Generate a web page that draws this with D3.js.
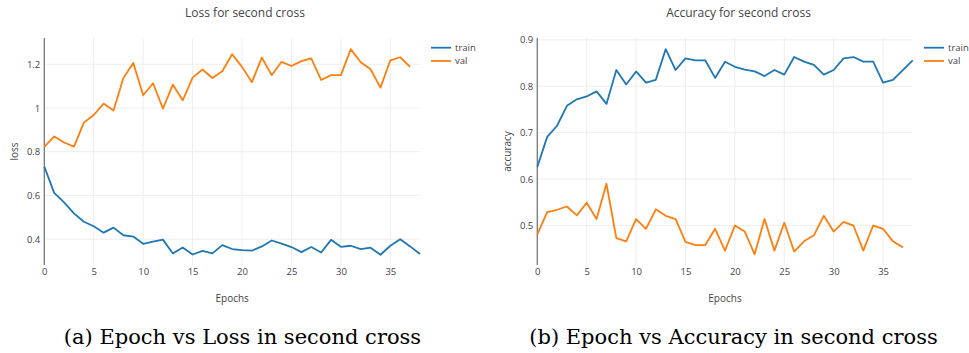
<!DOCTYPE html>
<html>
<head>
<meta charset="utf-8">
<script src="https://cdn.jsdelivr.net/npm/d3@7"></script>
<style>
body { margin: 0; background: #fff; }
text { font-family: 'Open Sans', sans-serif; }
</style>
</head>
<body>
<svg id="chart" width="969" height="353"></svg>
<script>
const lossTrain = [0.732, 0.612, 0.568, 0.518, 0.48, 0.459, 0.43, 0.453, 0.418, 0.412,
	0.379, 0.389, 0.398, 0.335, 0.362, 0.33, 0.347, 0.335, 0.373, 0.355,
	0.35, 0.348, 0.367, 0.394, 0.38, 0.364, 0.341, 0.364, 0.339, 0.397,
	0.365, 0.37, 0.355, 0.361, 0.329, 0.37, 0.4, 0.367, 0.332]
const lossVal = [0.822, 0.87, 0.842, 0.823, 0.933, 0.968, 1.02, 0.988, 1.137, 1.206,
	1.058, 1.113, 0.997, 1.107, 1.035, 1.139, 1.176, 1.137, 1.168, 1.246,
	1.188, 1.118, 1.231, 1.15, 1.211, 1.192, 1.214, 1.227, 1.128, 1.15,
	1.15, 1.269, 1.209, 1.177, 1.093, 1.218, 1.232, 1.188]
const accTrain = [0.626, 0.691, 0.715, 0.758, 0.772, 0.778, 0.789, 0.762, 0.835, 0.804,
	0.832, 0.808, 0.814, 0.88, 0.835, 0.86, 0.856, 0.856, 0.818, 0.853,
	0.842, 0.836, 0.832, 0.822, 0.835, 0.825, 0.863, 0.853, 0.846, 0.825,
	0.835, 0.86, 0.863, 0.853, 0.853, 0.808, 0.814, 0.835, 0.856]
const accVal = [0.481, 0.529, 0.534, 0.541, 0.522, 0.549, 0.514, 0.59, 0.473, 0.466,
	0.514, 0.493, 0.535, 0.521, 0.514, 0.465, 0.458, 0.458, 0.493, 0.446,
	0.5, 0.487, 0.438, 0.514, 0.446, 0.506, 0.444, 0.466, 0.479, 0.521,
	0.487, 0.508, 0.5, 0.446, 0.5, 0.493, 0.466, 0.453]

const xTicks = [0, 5, 10, 15, 20, 25, 30, 35]
const lossTicks = [0.4, 0.6, 0.8, 1, 1.2]
const accTicks = [0.5, 0.6, 0.7, 0.8, 0.9]
const seriesNames = ['train', 'val']

const colorTrain = '#1f77b4'
const colorVal = '#ff7f0e'
const textColor = '#444'
const gridColor = '#eeeeee'

const svg = d3.select('#chart')

const drawChart = (cfg) => {
	const g = svg.append('g')

	const xScale = d3.scaleLinear()
		.domain([0, 38])
		.range([cfg.left, cfg.right])

	const yScale = d3.scaleLinear()
		.domain(cfg.yDomain)
		.range([265, 38])

	// grid
	g.selectAll('line.vgrid')
		.data(xTicks.filter(d => d > 0))
		.enter()
		.append('line')
		.attr('x1', d => xScale(d))
		.attr('x2', d => xScale(d))
		.attr('y1', yScale.range()[0])
		.attr('y2', yScale.range()[1])
		.style('stroke', gridColor)

	g.selectAll('line.hgrid')
		.data(cfg.yTicks)
		.enter()
		.append('line')
		.attr('x1', cfg.left)
		.attr('x2', cfg.right)
		.attr('y1', d => yScale(d))
		.attr('y2', d => yScale(d))
		.style('stroke', gridColor)

	// zero line at epoch 0
	g.append('line')
		.attr('x1', xScale(0))
		.attr('x2', xScale(0))
		.attr('y1', yScale.range()[0])
		.attr('y2', yScale.range()[1])
		.style('stroke', '#777')
		.style('stroke-width', 1.3)

	const yAxis = d3.axisLeft(yScale)
		.tickValues(cfg.yTicks)
		.tickFormat(d => String(d))
		.tickSize(0)
		.tickPadding(4)

	const xAxis = d3.axisBottom(xScale)
		.tickValues(xTicks)
		.tickSize(0)
		.tickPadding(3)

	const yG = g.append('g')
		.attr('transform', `translate(${cfg.left}, 0)`)
		.call(yAxis)
	const xG = g.append('g')
		.attr('transform', `translate(0, 265)`)
		.call(xAxis)

	svg.selectAll('path.domain').remove()
	;[yG, xG].forEach(a => a.selectAll('text')
		.style('fill', textColor)
		.style('font-family', "'Open Sans', sans-serif")
		.style('font-size', '9.5px'))

	const line = d3.line()
		.x((d, i) => xScale(i))
		.y(d => yScale(d))

	g.append('path')
		.attr('d', line(cfg.train))
		.attr('fill', 'none')
		.attr('stroke', colorTrain)
		.attr('stroke-width', 1.8)
		.attr('stroke-linejoin', 'round')

	g.append('path')
		.attr('d', line(cfg.val))
		.attr('fill', 'none')
		.attr('stroke', colorVal)
		.attr('stroke-width', 1.8)
		.attr('stroke-linejoin', 'round')

	g.append('text')
		.attr('x', cfg.titleX)
		.attr('y', 17)
		.attr('text-anchor', 'middle')
		.style('font-size', '12px')
		.style('fill', textColor)
		.text(cfg.title)

	g.append('text')
		.attr('x', (cfg.left + cfg.right) / 2)
		.attr('y', 302)
		.attr('text-anchor', 'middle')
		.style('font-size', '10px')
		.style('fill', textColor)
		.text('Epochs')

	g.append('text')
		.attr('transform', `translate(${cfg.yLabelX}, ${(yScale.range()[0] + yScale.range()[1]) / 2}) rotate(-90)`)
		.attr('text-anchor', 'middle')
		.style('font-size', '10px')
		.style('fill', textColor)
		.text(cfg.yLabel)

	const legend = g.selectAll('g.legend')
		.data(seriesNames)
		.enter()
		.append('g')
		.attr('class', 'legend')
		.attr('transform', (d, i) => `translate(${cfg.legendX}, ${47.7 + i * 13.3})`)

	legend.append('line')
		.attr('x1', 0)
		.attr('x2', 20)
		.attr('stroke', (d, i) => i === 0 ? colorTrain : colorVal)
		.attr('stroke-width', 1.8)

	legend.append('text')
		.attr('x', 24)
		.attr('y', 3.3)
		.style('font-size', '9.5px')
		.style('fill', textColor)
		.text(d => d)

	svg.append('text')
		.attr('x', cfg.captionX)
		.attr('y', 344)
		.attr('text-anchor', 'middle')
		.style('font-family', "'DejaVu Serif', serif")
		.style('font-size', '21px')
		.style('fill', '#000')
		.text(cfg.caption)
}

drawChart({
	left: 44.3, right: 420, yDomain: [0.282, 1.32], yTicks: lossTicks,
	train: lossTrain, val: lossVal, title: 'Loss for second cross', titleX: 245,
	yLabel: 'loss', yLabelX: 18, legendX: 431,
	caption: '(a) Epoch vs Loss in second cross', captionX: 242.5
})

drawChart({
	left: 537.3, right: 912.7, yDomain: [0.415, 0.904], yTicks: accTicks,
	train: accTrain, val: accVal, title: 'Accuracy for second cross', titleX: 738.5,
	yLabel: 'accuracy', yLabelX: 511, legendX: 924,
	caption: '(b) Epoch vs Accuracy in second cross', captionX: 733.5
})
</script>
</body>
</html>
